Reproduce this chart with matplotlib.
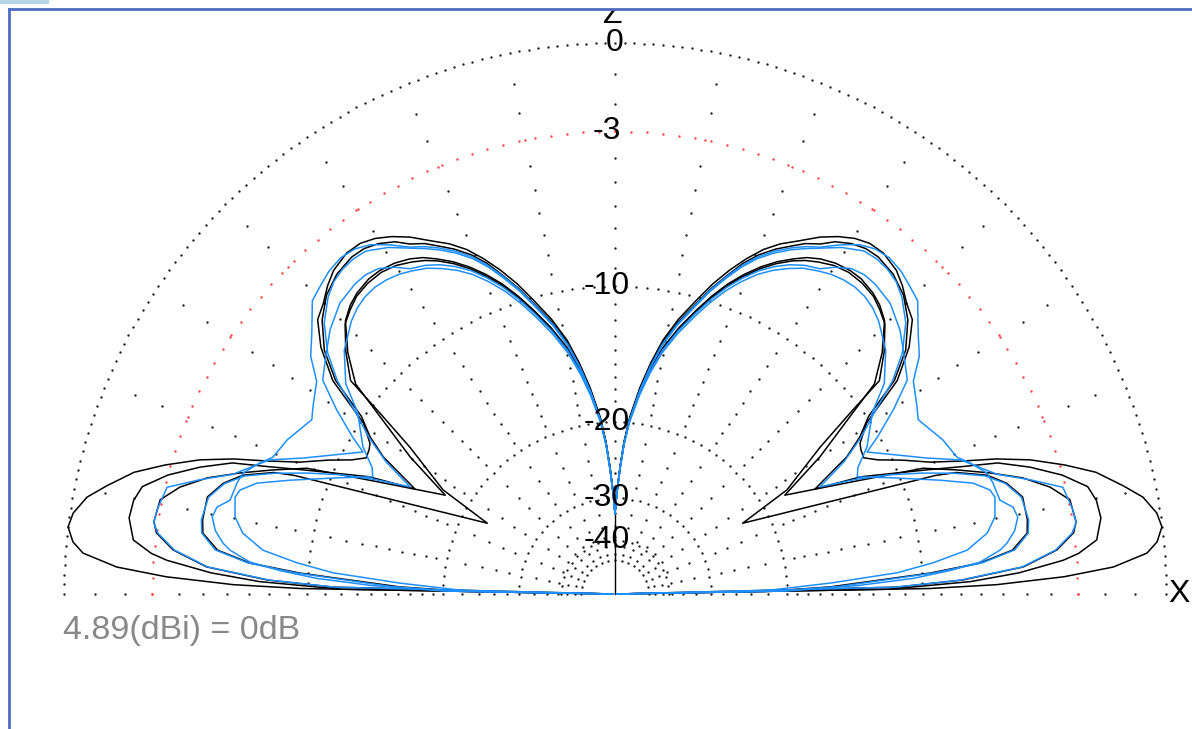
import numpy as np
import matplotlib
matplotlib.use("Agg")
import matplotlib.pyplot as plt
from matplotlib.lines import Line2D
from matplotlib.patches import Rectangle

plt.rcParams['font.family'] = ['Liberation Sans', 'DejaVu Sans']

# ---- pattern data: elevation (deg) / relative gain (dB), half pattern 0..90
# black traces
a_el = [0, 1, 1.4, 2.2, 3.1, 4.4, 5.5, 7, 8.5, 10.4, 12, 14.2, 16, 17.9, 19.5, 20.9, 22.7, 25, 27, 28.7,
        30.5, 31.6, 34.2, 37.1, 40, 42.7, 44.9, 47, 49, 51.8, 54, 56, 58, 60.1, 62.6, 64.7, 66.7, 68.6, 70.5,
        72.5, 74.4, 77, 79.3, 81.2, 83.1, 85.2, 86.6, 87.7, 89, 90]
a_db = [-99, -9.6, -6.3, -3.5, -1.7, -0.55, -0.2, 0, -0.1, -0.45, -1.0, -1.8, -2.8, -4.0, -5.3, -6.7, -8.2, -9.5, -10.7, -11.4,
        -11.3, -11.15, -10.2, -7.6, -6.2, -5.3, -5.0, -4.6, -4.3, -4.1, -4.12, -4.3, -4.6, -5.0, -5.6, -6.05, -6.6, -7.3, -8.1,
        -9.05, -10.1, -11.5, -13.0, -14.7, -16.7, -19.4, -22.0, -25.0, -29.0, -33.0]

b_el = [0, 1, 2, 3, 4.3, 5, 6.4, 8.9, 11, 12.8, 14.9, 17, 18.9, 20.2, 21.7, 23.5, 25.5, 27.7, 30.6, 32.7,
        35, 37.4, 40, 43.1, 46, 49, 52, 54, 56, 58, 59.6, 61.5, 63, 65, 67, 68.8, 70.5, 72.5, 74.4,
        77, 79.3, 81.2, 83.1, 85.2, 86.6, 87.7, 89, 90]
b_db = [-99, -12, -7.5, -5.3, -3.5, -2.9, -2.2, -1.95, -2.0, -2.2, -3.0, -4.1, -5.3, -6.9, -8.5, -10.3, -12.1, -15.3, -12.3, -10.95,
        -9.9, -7.7, -6.4, -5.45, -4.85, -4.5, -4.35, -4.38, -4.55, -4.85, -5.25, -5.55, -5.9, -6.35, -6.9, -7.55, -8.35, -9.3, -10.35,
        -11.7, -13.2, -14.9, -16.9, -19.6, -22.2, -25.2, -29.2, -33.0]

c_el = [0, 1.4, 2.3, 3.8, 5.7, 7.6, 8.9, 11.7, 13.8, 15.9, 17.9, 19.9, 22.2, 25.2, 30.2, 33.8, 37.3, 39, 42.1,
        45.4, 47.5, 49.4, 52, 54, 56.3, 58.5, 60.3, 62, 64, 66, 68, 70, 72, 74, 76.5, 79, 81, 83,
        85.2, 86.6, 87.7, 89, 90]
c_db = [-99, -11.5, -7.9, -5.1, -3.7, -3.0, -2.85, -2.93, -3.55, -4.5, -5.76, -7.1, -8.65, -12.6, -17.7, -13.8, -10.5, -8.6, -7.3,
        -6.2, -5.85, -5.65, -5.5, -5.5, -5.6, -5.8, -6.05, -6.4, -6.85, -7.4, -8.05, -8.8, -9.7, -10.7, -12.0, -13.5, -15.1, -17.0,
        -19.6, -22.3, -25.3, -29.3, -33.0]

d_el = [0, 1, 1.9, 3.8, 4.85, 6.3, 8.4, 10.2, 13.4, 15.8, 17.7, 19.6, 20.3, 29, 31.2, 35.6, 37.6, 38.9, 42,
        45, 47, 49, 51.5, 54, 56.3, 58.5, 60.3, 62, 64, 66, 68, 70, 72, 74, 76.5, 79, 81, 83,
        85.2, 86.6, 87.7, 89, 90]
d_db = [-99, -22, -16.1, -9.55, -7.0, -5.5, -4.8, -4.7, -4.7, -5.2, -5.9, -7.2, -8.2, -22.8, -17.3, -13.4, -10.6, -8.3, -7.2,
        -6.3, -6.0, -5.75, -5.62, -5.6, -5.72, -5.96, -6.2, -6.5, -6.95, -7.5, -8.15, -8.9, -9.8, -10.8, -12.1, -13.6, -15.2, -17.1,
        -19.7, -22.3, -25.3, -29.3, -33.0]

# blue traces
la_el = [0, 1, 2, 3, 4, 5, 6.5, 7.4, 9, 10.8, 12.3, 13.7, 16.4, 18, 20.3, 21.8, 25.2, 28.2, 29.9, 32,
         35.5, 38, 40.7, 44.1, 46.1, 48.5, 50.8, 53, 55, 57.2, 59.4, 61.2, 63, 65, 67, 68.8, 70.5, 72.5, 74.4,
         77, 79.3, 81.2, 83.1, 85.2, 86.6, 87.7, 89, 90]
la_db = [-99, -20, -14, -10.5, -8.5, -7.0, -6.04, -5.7, -5.3, -5.07, -5.18, -5.66, -5.76, -5.88, -6.45, -6.91, -7.2, -7.6, -7.8, -7.5,
         -7.0, -6.1, -5.5, -4.6, -4.42, -4.2, -4.1, -4.17, -4.4, -4.85, -5.37, -5.65, -6.0, -6.45, -7.0, -7.65, -8.4, -9.35, -10.4,
         -11.8, -13.3, -15.0, -17.0, -19.7, -22.3, -25.3, -29.3, -33.0]

lb_el = [0, 1.4, 2.3, 3.8, 5.7, 7.6, 8.8, 10.4, 13.4, 15.4, 17.4, 21.2, 23.6, 26.6, 29.4, 30.9, 33.5, 36.2, 39.6,
         42.8, 46.6, 50, 52, 54, 56, 57.8, 60, 62, 64, 66, 68, 70, 72, 74, 76.5, 79, 81, 83,
         85.2, 86.6, 87.7, 89, 90]
lb_db = [-99, -11.6, -8.0, -5.15, -3.75, -3.05, -2.85, -2.89, -3.08, -4.24, -5.48, -6.8, -8.3, -9.8, -11.06, -10.1, -8.6, -7.2, -6.6,
         -6.0, -5.48, -5.3, -5.28, -5.4, -5.75, -6.18, -6.4, -6.7, -7.1, -7.6, -8.25, -9.0, -9.9, -10.9, -12.2, -13.7, -15.3, -17.2,
         -19.8, -22.4, -25.4, -29.4, -33.0]

lc_el = [0, 1.2, 2.9, 4.3, 5.6, 7.1, 9.3, 11.5, 14.3, 15.5, 17.2, 19.3, 22.9, 25.8, 27.5, 30.3, 35.2, 38, 42,
         46, 48, 50, 52, 54, 56, 57.8, 60, 62, 64, 66, 68, 70, 72, 74, 76.5, 79, 81, 83,
         85.2, 86.6, 87.7, 89, 90]
lc_db = [-99, -22.5, -16.1, -11.45, -9.35, -7.55, -6.5, -6.03, -5.84, -5.97, -6.61, -8.07, -10.5, -12.3, -12.0, -10.9, -9.6, -8.2, -7.1,
         -6.4, -6.15, -6.0, -5.95, -6.0, -6.12, -6.3, -6.55, -6.9, -7.3, -7.8, -8.45, -9.2, -10.1, -11.1, -12.4, -13.9, -15.5, -17.4,
         -20.0, -22.5, -25.5, -29.5, -33.0]

ld_el = [0, 1, 1.9, 3.8, 4.85, 6.3, 8.4, 10.2, 13.4, 15.8, 17.7, 19.6, 21.5, 23.5, 25.5, 27.6, 30, 32.5, 35,
         37.5, 40, 43, 46, 48, 50, 52, 54, 56.8, 59.4, 61.2, 63, 65, 67, 68.8, 70.5, 72.5, 74.4,
         77, 79.3, 81.2, 83.1, 85.2, 86.6, 87.7, 89, 90]
ld_db = [-99, -21, -15.5, -9.3, -6.9, -5.4, -4.75, -4.65, -4.75, -5.25, -6.0, -7.3, -8.8, -10.5, -12.5, -14.9, -12.6, -10.9, -9.5,
         -7.8, -6.6, -5.6, -4.95, -4.65, -4.5, -4.45, -4.5, -4.9, -5.42, -5.75, -6.1, -6.55, -7.1, -7.75, -8.5, -9.45, -10.5,
         -11.9, -13.4, -15.1, -17.1, -19.8, -22.4, -25.4, -29.4, -33.0]

z_axis_db = -33.0

# grid
ring_levels = [0, -3, -10, -20, -30, -40]
ring_labels = ['0', '-3', '-10', '-20', '-30', '-40']
ring_steps = [1, 2, 2, 3, 5, 9]
ray_step = 11.25
ray_db = list(range(1, 21)) + list(range(22, 31, 2)) + list(range(33, 49, 3))

ref_text = '4.89(dBi) = 0dB'

# geometry (pixels of the 1192x729 picture)
W, H = 1192, 729
CX, CY, R0 = 615, 594, 551


def rad(db):
    # ARRL style log scale: 0.89 per 2 dB
    return 0.89 ** (-np.asarray(db, dtype=float) / 2.0)


fig = plt.figure(figsize=(W / 100, H / 100), dpi=100)
ax = fig.add_axes([0, 0, 1, 1])
ax.set_xlim(-CX / R0, (W - CX) / R0)
ax.set_ylim(-(H - CY) / R0, CY / R0)
ax.axis('off')

dot = dict(ls='none', marker='o', ms=1.7, mec='none')

# rings
for lev, step in zip(ring_levels, ring_steps):
    th = np.radians(np.arange(0, 180 + 0.01, step))
    col = '#ff3b3b' if lev == -3 else '#1a1a1a'
    ax.plot(rad(lev) * np.cos(th), rad(lev) * np.sin(th), color=col, mfc=col, **dot)

# radial rays
for ang in np.arange(0, 180 + 0.01, ray_step):
    t = np.radians(ang)
    levs = [-v for v in ray_db if -v not in ring_levels]
    rr = rad(levs)
    ax.plot(rr * np.cos(t), rr * np.sin(t), color='#1a1a1a', mfc='#1a1a1a', **dot)
    ax.plot([rad(-3) * np.cos(t)], [rad(-3) * np.sin(t)], color='#ff3b3b', mfc='#ff3b3b', **dot)

# z axis line
ax.plot([0, 0], [0, rad(z_axis_db)], color='black', lw=1.0)

traces = [
    (a_el, a_db, 'black'), (b_el, b_db, 'black'), (c_el, c_db, 'black'), (d_el, d_db, 'black'),
    (la_el, la_db, '#1e8fff'), (lb_el, lb_db, '#1e8fff'), (lc_el, lc_db, '#1e8fff'), (ld_el, ld_db, '#1e8fff'),
]
for el, db, col in traces:
    th = np.radians(el)
    r = rad(db)
    ax.plot(r * np.cos(th), r * np.sin(th), color=col, lw=1.1, solid_joinstyle='round')
    ax.plot(-r * np.cos(th), r * np.sin(th), color=col, lw=1.1, solid_joinstyle='round')

# labels
fs = 23
for lev, lab in zip(ring_levels, ring_labels):
    xoff = 0 if lev == 0 else -8 / R0
    ax.text(xoff, rad(lev), lab, ha='center', va='center', fontsize=fs, color='black')
ax.text(-2 / R0, (CY - 15) / R0, 'Z', ha='center', va='center', fontsize=fs, color='black')
ax.text((1179 - CX) / R0, 0, 'X', ha='center', va='center', fontsize=fs, color='black')
ax.text(-(CX - 63) / R0, -(630 - CY) / R0, ref_text, ha='left', va='center', fontsize=24.5, color='#888888')

# window frame
fig.add_artist(Rectangle((0, 1 - 8 / H), 1, 8 / H, transform=fig.transFigure, color='white', zorder=10))
fig.add_artist(Rectangle((0, 1 - 3 / H), 48 / W, 3 / H, transform=fig.transFigure, color='#b7d7e8', zorder=11))
fig.add_artist(Line2D([9 / W, 1], [1 - 9 / H, 1 - 9 / H], transform=fig.transFigure, color='#4f6cc4', lw=2.0, zorder=12))
fig.add_artist(Line2D([9 / W, 9 / W], [0, 1 - 9 / H], transform=fig.transFigure, color='#4f6cc4', lw=2.0, zorder=12))

fig.savefig('out.png', dpi=100, facecolor='white')
